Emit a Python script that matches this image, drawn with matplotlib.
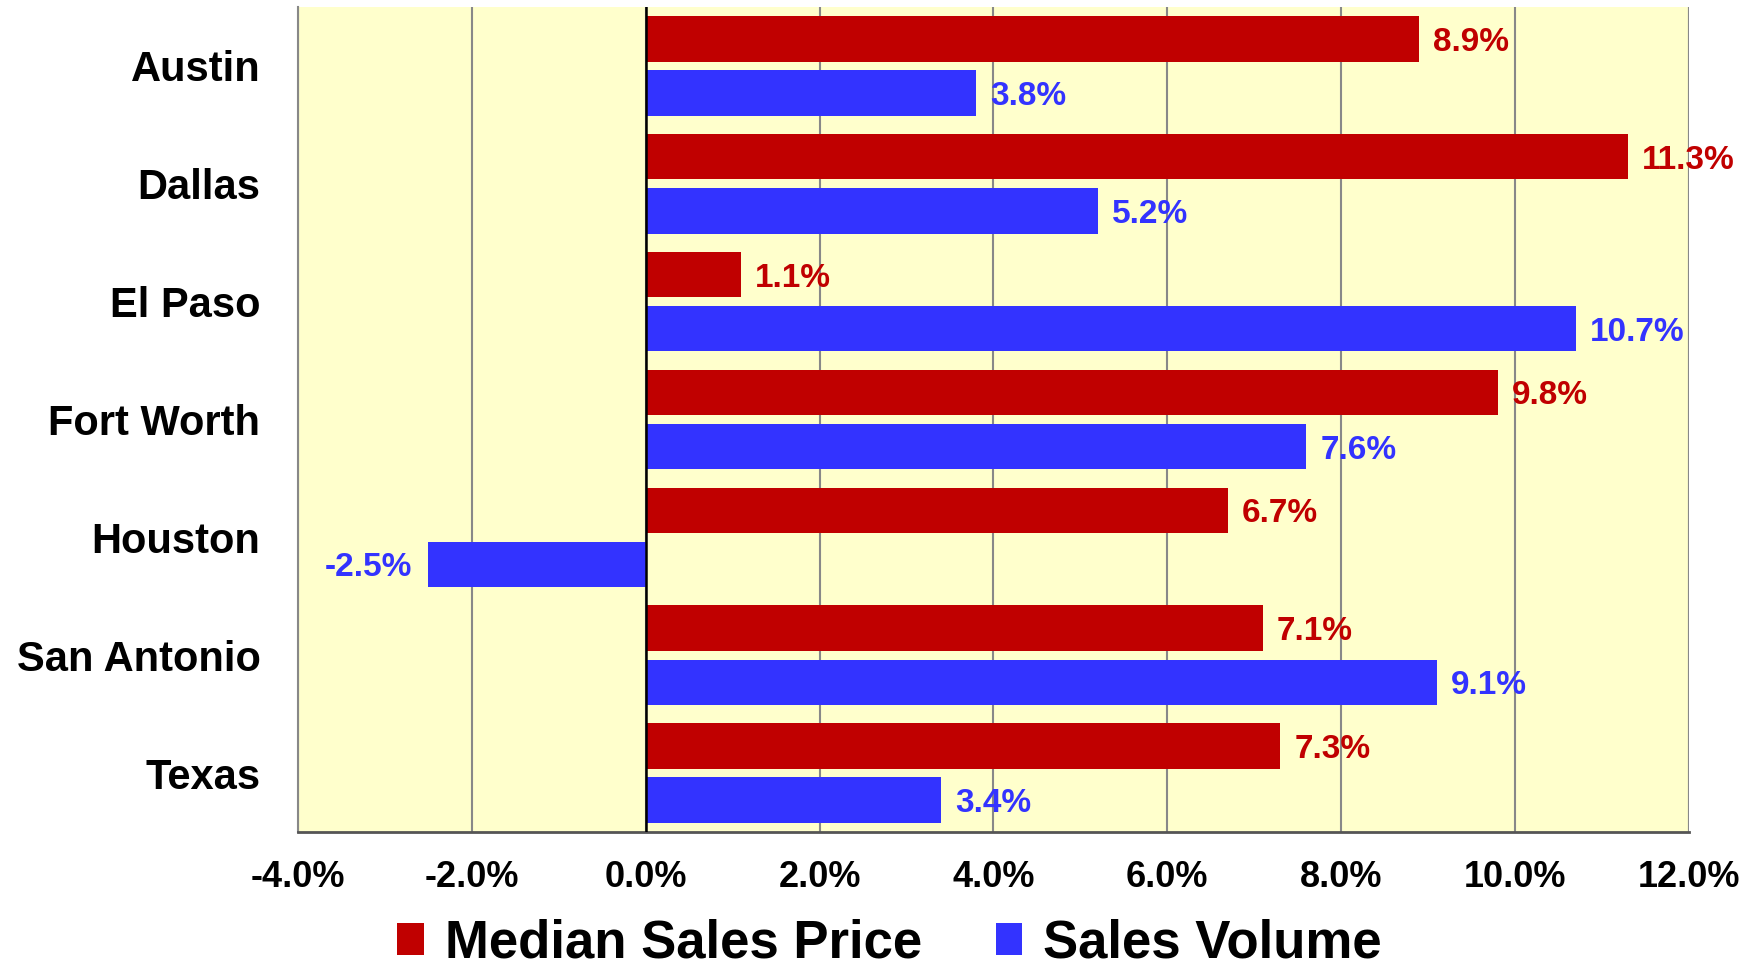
import matplotlib
matplotlib.use("Agg")
import matplotlib.pyplot as plt
import numpy as np

cities = ["Austin", "Dallas", "El Paso", "Fort Worth", "Houston", "San Antonio", "Texas"]
median_price = [8.9, 11.3, 1.1, 9.8, 6.7, 7.1, 7.3]
sales_volume = [3.8, 5.2, 10.7, 7.6, -2.5, 9.1, 3.4]
xticks = [-4, -2, 0, 2, 4, 6, 8, 10, 12]

RED = "#C00000"
BLUE = "#3333FF"

plt.rcParams["font.family"] = ["Liberation Sans", "DejaVu Sans"]
plt.rcParams["font.weight"] = "bold"

fig = plt.figure(figsize=(17.58, 9.72), dpi=100)
ax = fig.add_axes([298 / 1758, 1 - 832 / 972, (1689 - 298) / 1758, (832 - 7) / 972])
ax.set_facecolor("#FFFFCC")

y = np.arange(len(cities)) + 0.5
h = 0.385
ax.barh(y - 0.23, median_price, height=h, color=RED, label="Median Sales Price", zorder=3)
ax.barh(y + 0.23, sales_volume, height=h, color=BLUE, label="Sales Volume", zorder=3)

# value labels next to bar ends
for offs, vals, col in [(-0.23, median_price, RED), (0.23, sales_volume, BLUE)]:
    for yi, v in zip(y + offs, vals):
        ax.annotate(f"{v:.1f}%", (v, yi), xytext=(10 if v >= 0 else -12, 0), textcoords="offset points",
                    ha="left" if v >= 0 else "right", va="center_baseline", color=col,
                    fontsize=24, fontweight="bold", zorder=4)

ax.set_xlim(-4, 12)
ax.set_ylim(len(cities), 0)
ax.set_xticks(xticks)
ax.set_xticklabels([f"{t:.1f}%" for t in xticks], fontsize=26, fontweight="bold")
ax.set_yticks(y)
ax.set_yticklabels(cities, fontsize=30, fontweight="bold")
ax.tick_params(axis="y", length=0, pad=27)
ax.tick_params(axis="x", length=0, pad=20)

ax.grid(axis="x", color="#888888", linewidth=1.5, zorder=1)
ax.axvline(0, color="black", linewidth=1.8, zorder=5)
for s in ["top", "right"]:
    ax.spines[s].set_visible(False)
ax.spines["left"].set_color("#888888")
ax.spines["left"].set_linewidth(1.5)
ax.spines["bottom"].set_color("#555555")
ax.spines["bottom"].set_linewidth(2)
ax.axvline(12, color="#888888", linewidth=1.5, zorder=1)

fig.legend(loc="center", bbox_to_anchor=(0.506, 0.029), ncol=2, frameon=False,
           prop={"size": 38, "weight": "bold"}, handlelength=0.5, handleheight=0.55,
           handletextpad=0.4, columnspacing=1.4, borderaxespad=0, borderpad=0)

fig.savefig("out.png", dpi=100)
